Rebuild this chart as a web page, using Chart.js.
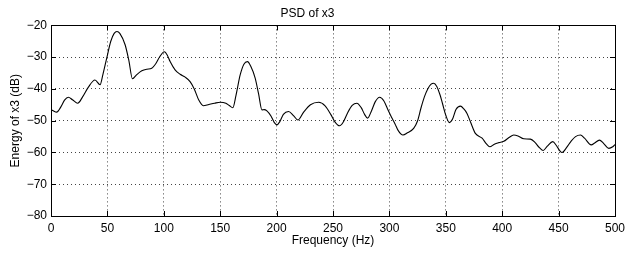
<!DOCTYPE html>
<html>
<head>
<meta charset="utf-8">
<script src="https://cdn.jsdelivr.net/npm/chart.js@4/dist/chart.umd.min.js"></script>
<style>
  html, body { margin: 0; padding: 0; background: #fff; }
  canvas { display: block; }
</style>
</head>
<body>
<canvas id="psdChart" width="625" height="254"></canvas>
<script>
// frequency points (Hz) and PSD energy (dB)
const freqs = [0, 2, 5, 9, 12, 15.4, 19, 23.7, 28, 33, 39, 43.5, 46, 49.4, 53, 56, 58.5, 61, 65.7, 69,
  72.2, 76, 80.5, 85, 89.3, 93, 96.5, 100.5, 103, 105.6, 110, 114.5, 119, 123.3, 127, 131, 135, 140,
  145, 150, 155, 158, 161.2, 164, 167.7, 171, 174.2, 177, 181, 184, 187, 189, 191.4, 195, 198, 200.3,
  203, 206, 210.6, 215, 218.9, 224, 230, 237.2, 243, 248, 252, 255.8, 259, 263, 267, 271.2, 275, 278,
  280.7, 284, 287.5, 291.3, 295, 299, 302, 305, 308, 312, 316, 321.5, 325, 328, 331, 334, 337, 339.2,
  342, 345, 347, 350, 353.2, 356, 359, 363, 366, 368.8, 372, 376.2, 382.2, 386, 389, 393, 397, 401.4,
  406, 410.2, 414, 419.1, 425, 429, 433, 436.3, 440, 444.8, 448, 451, 453.1, 457, 461, 465, 469.4,
  473, 478.9, 482, 486.2, 490, 494.5, 498, 500];
const energy = [-46.5, -46.9, -47.3, -45.5, -43.5, -42.6, -43.4, -44.5, -42.5, -39.5, -37.2, -38.7, -35.5, -30.3, -25, -22.5, -21.9, -22.5, -26.1, -31,
  -36.8, -35.5, -34.3, -33.8, -33.5, -32, -29.8, -28.3, -29.3, -31.4, -34, -35.4, -36.3, -37.7, -40, -43.5, -45.3, -44.9,
  -44.5, -44.2, -44.5, -45.2, -45.9, -42, -35.6, -32.2, -31.4, -32.8, -36.6, -41.5, -46.6, -46.5, -46.9, -48.5, -50.6, -51.3,
  -50.2, -48, -47.1, -48.4, -49.8, -47.3, -45, -44.2, -45.3, -48, -50.5, -51.6, -50.5, -47.5, -45.2, -44.5, -45.9, -48,
  -49.2, -47, -44, -42.6, -43.7, -46.8, -49, -51, -53.2, -54.5, -53.8, -52.4, -50, -46, -42.5, -40, -38.5, -38.2,
  -39.2, -42, -44.5, -48.3, -50.6, -49.5, -46.5, -45.4, -46.3, -47.7, -50.5, -54, -55.5, -57.3, -58.2, -57.4, -56.9, -56.5,
  -55.3, -54.5, -54.8, -55.7, -55.8, -56.8, -58.5, -59.4, -58, -56.6, -57.8, -59.4, -60.0, -58.5, -56.5, -55, -54.5,
  -55.5, -57.6, -57, -56.1, -57.2, -58.7, -58.2, -57.5];

const xTicks = [0, 50, 100, 150, 200, 250, 300, 350, 400, 450, 500];
const yTicks = [-80, -70, -60, -50, -40, -30, -20];

const FONT = { family: '"Liberation Sans", Arial, Helvetica, sans-serif', size: 12, weight: 'normal' };

// matlab-style box with inward tick marks
const boxPlugin = {
  id: 'boxTicks',
  afterDraw(chart) {
    const { ctx, chartArea: a, scales } = chart;
    ctx.save();
    ctx.strokeStyle = '#000';
    ctx.lineWidth = 1;
    ctx.beginPath();
    xTicks.forEach(v => {
      const px = Math.round(scales.x.getPixelForValue(v)) + 0.5;
      ctx.moveTo(px, a.bottom); ctx.lineTo(px, a.bottom - 5);
      ctx.moveTo(px, a.top); ctx.lineTo(px, a.top + 5);
    });
    yTicks.forEach(v => {
      const py = Math.round(scales.y.getPixelForValue(v)) + 0.5;
      ctx.moveTo(a.left, py); ctx.lineTo(a.left + 5, py);
      ctx.moveTo(a.right, py); ctx.lineTo(a.right - 5, py);
    });
    ctx.stroke();
    ctx.strokeRect(Math.round(a.left) + 0.5, Math.round(a.top) + 0.5,
      Math.round(a.right - a.left), Math.round(a.bottom - a.top));
    ctx.restore();
  }
};

new Chart(document.getElementById('psdChart').getContext('2d'), {
  type: 'line',
  data: {
    datasets: [{
      data: freqs.map((f, i) => ({ x: f, y: energy[i] })),
      borderColor: '#000',
      borderWidth: 1.1,
      pointRadius: 0,
      cubicInterpolationMode: 'monotone',
      fill: false
    }]
  },
  options: {
    responsive: false,
    animation: false,
    devicePixelRatio: 1,
    layout: { padding: { left: 0, right: 10, top: 0, bottom: 0 } },
    plugins: {
      legend: { display: false },
      tooltip: { enabled: false },
      title: {
        display: true,
        text: 'PSD of x3',
        color: '#000',
        font: FONT,
        padding: { top: 6, bottom: 5 }
      }
    },
    scales: {
      x: {
        type: 'linear',
        min: 0, max: 500,
        afterBuildTicks: s => { s.ticks = xTicks.map(v => ({ value: v })); },
        afterFit: s => { s.height = 38; s.paddingLeft = 0; s.paddingRight = 0; },
        grid: { color: '#444', lineWidth: 1, drawTicks: false },
        border: { display: false, dash: [1, 3] },
        ticks: { color: '#000', font: FONT, padding: 5, maxRotation: 0 },
        title: { display: true, text: 'Frequency (Hz)', color: '#000', font: FONT, padding: { top: 0, bottom: 6 } }
      },
      y: {
        type: 'linear',
        min: -80, max: -20,
        afterBuildTicks: s => { s.ticks = yTicks.map(v => ({ value: v })); },
        afterFit: s => { s.width = 51; s.paddingTop = 0; s.paddingBottom = 0; },
        grid: { color: '#444', lineWidth: 1, drawTicks: false },
        border: { display: false, dash: [1, 3] },
        ticks: { color: '#000', font: FONT, padding: 4, callback: v => String(v).replace('-', '\u2212') },
        title: { display: true, text: 'Energy of x3 (dB)', color: '#000', font: FONT, padding: { top: 8, bottom: 0 } }
      }
    }
  },
  plugins: [boxPlugin]
});
</script>
</body>
</html>
